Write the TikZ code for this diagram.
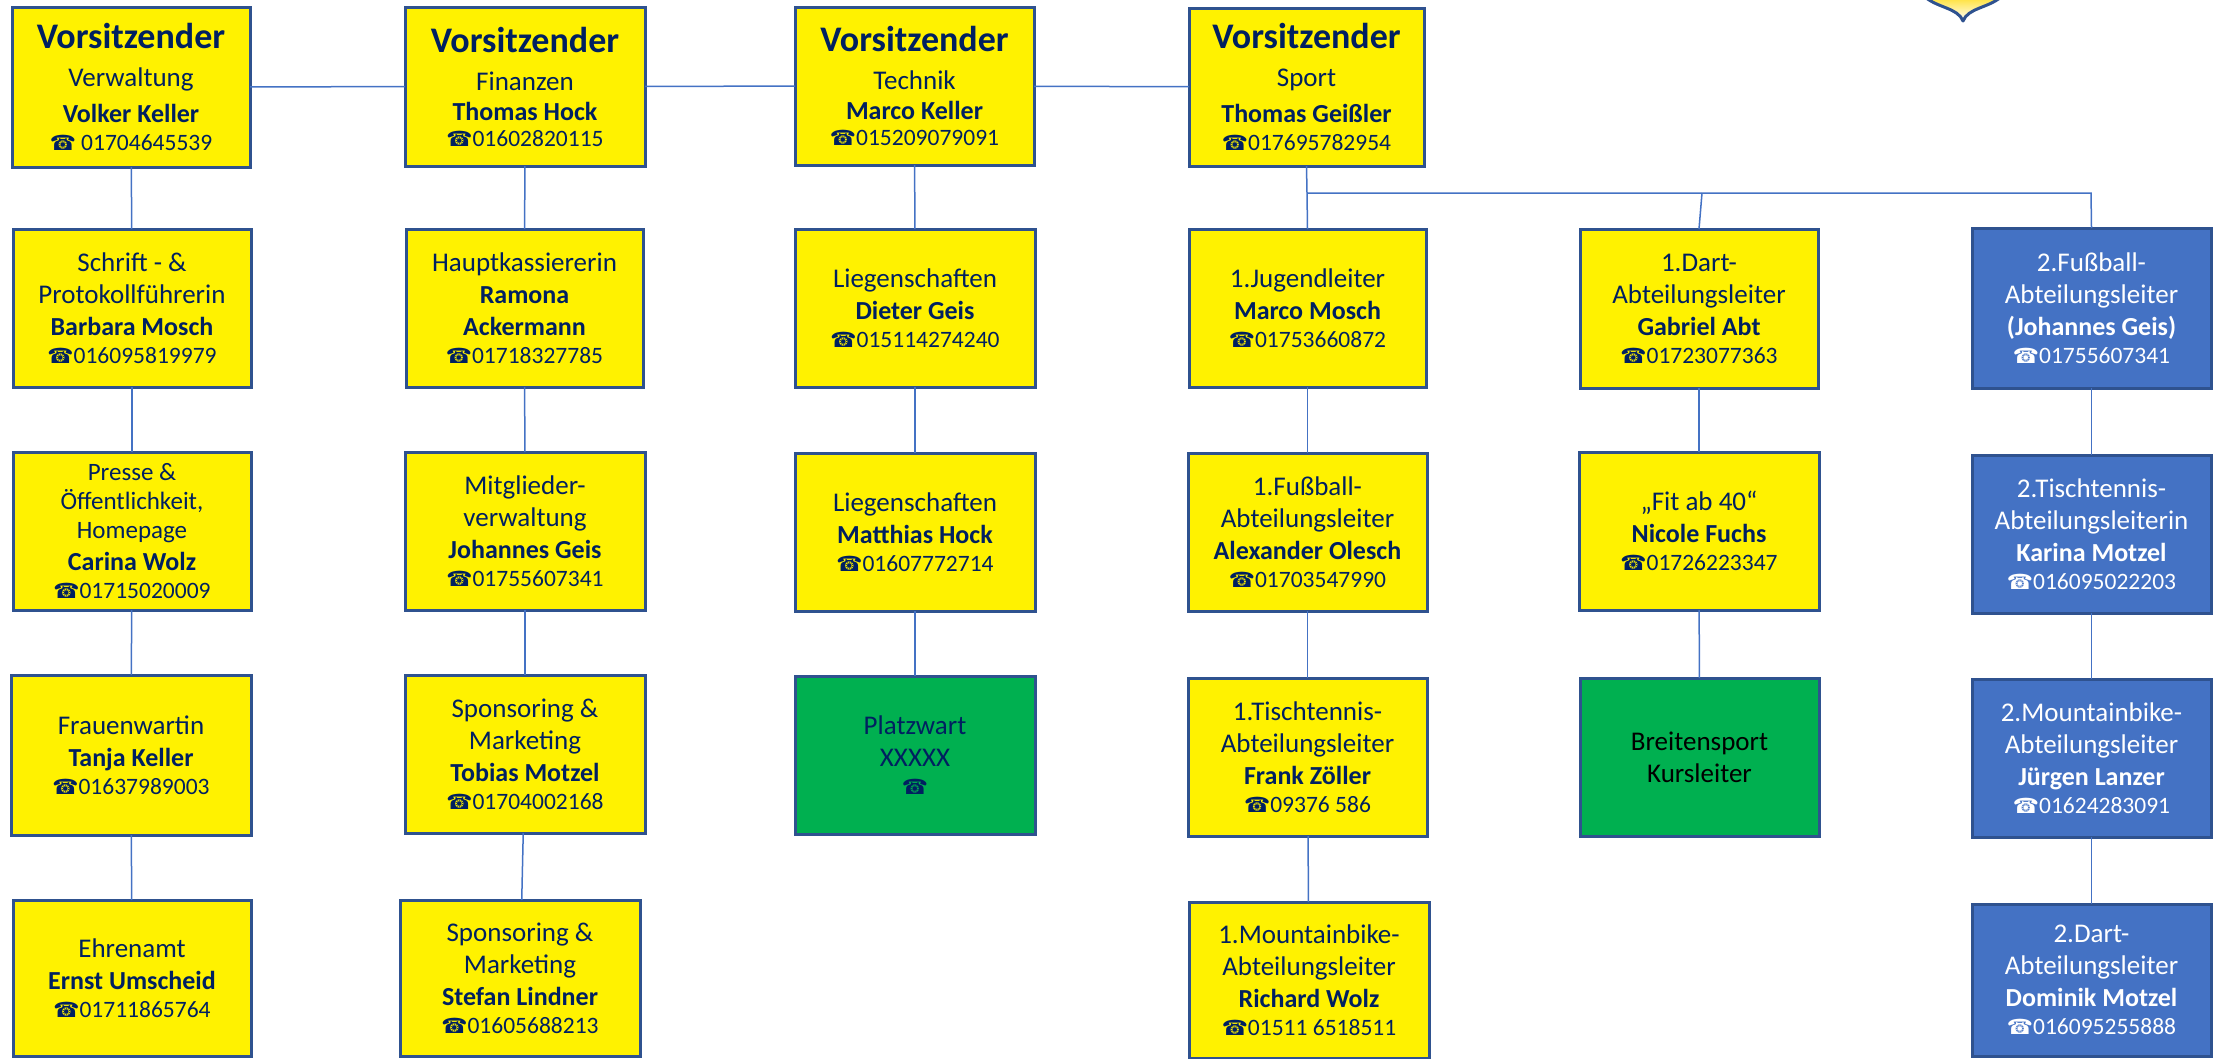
\documentclass[tikz,border=0pt]{standalone}
\usepackage{fontspec}
\setmainfont{Carlito}
\newfontfamily\symfont{DejaVu Sans}
\definecolor{navy}{HTML}{002060}
\definecolor{edge}{HTML}{2F528F}
\definecolor{conn}{HTML}{4472C4}
\definecolor{bluefill}{HTML}{4472C4}
\definecolor{greenfill}{HTML}{00B050}
\newcommand{\Hd}[1]{{\fontsize{36}{32}\selectfont\bfseries #1}}
\newcommand{\Lr}[1]{{\fontsize{27}{32}\selectfont #1}}
\newcommand{\Ls}[1]{{\fontsize{25}{32}\selectfont #1}}
\newcommand{\Nm}[1]{{\fontsize{26}{32}\selectfont\bfseries #1}}
\newcommand{\Tl}[1]{{\fontsize{23.5}{32}\selectfont{\symfont\fontsize{21}{32}\selectfont ☎}#1}}
\newcommand{\obox}[7][yellowbox]{%
  \pgfmathsetmacro{\bw}{#5-#3}\pgfmathsetmacro{\bh}{#6-#4}%
  \pgfmathsetmacro{\bx}{(#5+#3)/2}\pgfmathsetmacro{\by}{(#6+#4)/2}%
  \node[orgbox,#1,minimum width=\bw pt,minimum height=\bh pt] (#2) at (\bx,\by) {#7};}
\tikzset{
  orgbox/.style={draw=edge,line width=3pt,align=center,inner sep=0pt,outer sep=0pt,font=\fontsize{27}{32}\selectfont},
  yellowbox/.style={fill=yellow,text=navy},
  bluebox/.style={fill=bluefill,text=white},
  greenbox/.style={fill=greenfill,text=navy},
  link/.style={draw=conn,line width=1.5pt}
}
\begin{document}
\begin{tikzpicture}[x=1pt,y=-1pt]
\useasboundingbox (0,0) rectangle (2214,1058);
% crest tip
\path[top color=yellow!70!orange!80,bottom color=white,draw=edge,line width=3pt,line join=round]
  (1925,-3) .. controls (1938,8) and (1958,8) .. (1963,21) .. controls (1968,8) and (1988,8) .. (2001,-3) -- cycle;
% row boxes col 1
\obox{v1}{12}{7}{250}{167}{\Hd{Vorsitzender}\\[6pt]\Lr{Verwaltung}\\[4pt]\Nm{Volker Keller}\\[-4pt]\Tl{ 01704645539}}
\obox{a2}{13}{229}{251}{387}{\Lr{Schrift - \&}\\\Lr{Protokollführerin}\\\Nm{Barbara Mosch}\\[-4pt]\Tl{016095819979}}
\obox{a3}{13}{452}{251}{610}{\Ls{Presse \&}\\[-3pt]\Ls{Öffentlichkeit,}\\[-3pt]\Ls{Homepage}\\\Nm{Carina Wolz}\\[-4pt]\Tl{01715020009}}
\obox{a4}{11}{675}{251}{835}{\Lr{Frauenwartin}\\\Nm{Tanja Keller}\\[-4pt]\Tl{01637989003}}
\obox{a5}{13}{900}{251}{1056}{\Lr{Ehrenamt}\\\Nm{Ernst Umscheid}\\[-4pt]\Tl{01711865764}}
% col 2
\obox{v2}{405}{7}{645}{166}{\Hd{Vorsitzender}\\[6pt]\Lr{Finanzen}\\[-2pt]\Nm{Thomas Hock}\\[-6pt]\Tl{01602820115}}
\obox{b2}{406}{229}{643}{387}{\Lr{Hauptkassiererin}\\\Nm{Ramona}\\\Nm{Ackermann}\\[-4pt]\Tl{01718327785}}
\obox{b3}{405}{452}{645}{610}{\Lr{Mitglieder-}\\\Lr{verwaltung}\\\Nm{Johannes Geis}\\[-4pt]\Tl{01755607341}}
\obox{b4}{405}{675}{645}{833}{\Lr{Sponsoring \&}\\\Lr{Marketing}\\\Nm{Tobias Motzel}\\[-4pt]\Tl{01704002168}}
\obox{b5}{400}{900}{640}{1056}{\Lr{Sponsoring \&}\\\Lr{Marketing}\\\Nm{Stefan Lindner}\\[-4pt]\Tl{01605688213}}
% col 3
\obox{v3}{795}{7}{1034}{165}{\Hd{Vorsitzender}\\[6pt]\Lr{Technik}\\[-2pt]\Nm{Marco Keller}\\[-6pt]\Tl{015209079091}}
\obox{c2}{795}{229}{1035}{387}{\Lr{Liegenschaften}\\\Nm{Dieter Geis}\\[-4pt]\Tl{015114274240}}
\obox{c3}{795}{453}{1035}{611}{\Lr{Liegenschaften}\\\Nm{Matthias Hock}\\[-4pt]\Tl{01607772714}}
\obox[greenbox]{c4}{795}{676}{1035}{834}{\Lr{Platzwart}\\\Lr{XXXXX}\\[-4pt]\Tl{}}
% col 4
\obox{v4}{1189}{8}{1424}{166}{\Hd{Vorsitzender}\\[6pt]\Lr{Sport}\\[4pt]\Nm{Thomas Geißler}\\[-4pt]\Tl{017695782954}}
\obox{d2}{1189}{229}{1426}{387}{\Lr{1.Jugendleiter}\\\Nm{Marco Mosch}\\[-4pt]\Tl{01753660872}}
\obox{d3}{1188}{453}{1427}{611}{\Lr{1.Fußball-}\\\Lr{Abteilungsleiter}\\\Nm{Alexander Olesch}\\[-4pt]\Tl{01703547990}}
\obox{d4}{1188}{678}{1427}{836}{\Lr{1.Tischtennis-}\\\Lr{Abteilungsleiter}\\\Nm{Frank Zöller}\\[-4pt]\Tl{09376 586}}
\obox{d5}{1189}{902}{1429}{1058}{\Lr{1.Mountainbike-}\\\Lr{Abteilungsleiter}\\\Nm{Richard Wolz}\\[-4pt]\Tl{01511 6518511}}
% dart
\obox{e2}{1580}{229}{1818}{388}{\Lr{1.Dart-}\\\Lr{Abteilungsleiter}\\\Nm{Gabriel Abt}\\[-4pt]\Tl{01723077363}}
\obox{e3}{1579}{452}{1819}{610}{\Lr{„Fit ab 40“}\\\Nm{Nicole Fuchs}\\[-4pt]\Tl{01726223347}}
\obox[greenbox,text=black]{e4}{1580}{678}{1819}{836}{\Lr{Breitensport}\\\Lr{Kursleiter}}
% blue
\obox[bluebox]{f2}{1972}{228}{2211}{388}{\Lr{2.Fußball-}\\\Lr{Abteilungsleiter}\\\Nm{(Johannes Geis)}\\[-4pt]\Tl{01755607341}}
\obox[bluebox]{f3}{1972}{455}{2211}{613}{\Lr{2.Tischtennis-}\\\Lr{Abteilungsleiterin}\\\Nm{Karina Motzel}\\[-4pt]\Tl{016095022203}}
\obox[bluebox]{f4}{1972}{679}{2211}{837}{\Lr{2.Mountainbike-}\\\Lr{Abteilungsleiter}\\\Nm{Jürgen Lanzer}\\[-4pt]\Tl{01624283091}}
\obox[bluebox]{f5}{1972}{904}{2211}{1056}{\Lr{2.Dart-}\\\Lr{Abteilungsleiter}\\\Nm{Dominik Motzel}\\[-4pt]\Tl{016095255888}}
% connectors
\draw[link] (v1) -- (v2);
\draw[link] (v2) -- (v3);
\draw[link] (v3) -- (v4);
\draw[link] (v1) -- (a2);
\draw[link] (a2) -- (a3);
\draw[link] (a3) -- (a4);
\draw[link] (a4) -- (a5);
\draw[link] (v2) -- (b2);
\draw[link] (b2) -- (b3);
\draw[link] (b3) -- (b4);
\draw[link] (b4) -- (b5);
\draw[link] (v3) -- (c2);
\draw[link] (c2) -- (c3);
\draw[link] (c3) -- (c4);
\draw[link] (d2) -- (d3);
\draw[link] (d3) -- (d4);
\draw[link] (d4) -- (d5);
\draw[link] (e2) -- (e3);
\draw[link] (e3) -- (e4);
\draw[link] (f2) -- (f3);
\draw[link] (f3) -- (f4);
\draw[link] (f4) -- (f5);
\coordinate (j1) at (1307,193);
\coordinate (j2) at (1702,193);
\coordinate (j3) at (2091,193);
\draw[link] (v4.south) -- (j1) -- (d2.north);
\draw[link] (j1) -- (j2) -- (j3) -- (f2.north);
\draw[link] (j2) -- (e2.north);
\end{tikzpicture}
\end{document}
